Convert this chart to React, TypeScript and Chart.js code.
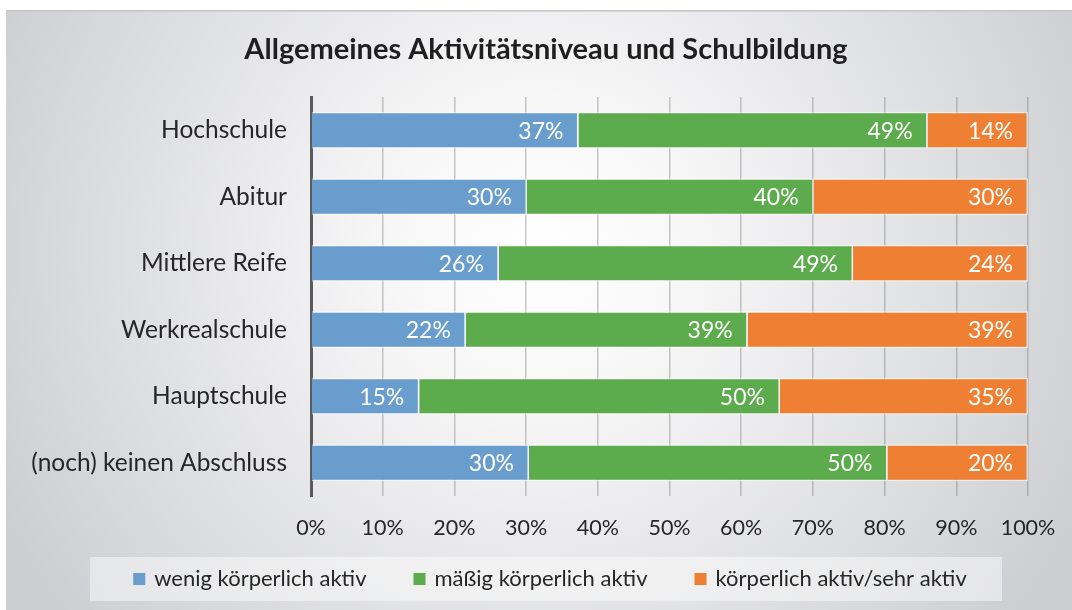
import React, { useEffect, useRef } from 'react';
import { Chart, registerables } from 'chart.js';

Chart.register(...registerables);

const chartTitle = 'Allgemeines Aktivitätsniveau und Schulbildung';
const categories = ['Hochschule', 'Abitur', 'Mittlere Reife', 'Werkrealschule', 'Hauptschule', '(noch) keinen Abschluss'];
const seriesNames = ['wenig körperlich aktiv', 'mäßig körperlich aktiv', 'körperlich aktiv/sehr aktiv'];
const seriesColors = ['#699dcd', '#5cab4d', '#ee7f33'];

const wenigValues = [37.3, 30.1, 26.2, 21.6, 15.1, 30.4];
const maessigValues = [48.7, 40.0, 49.4, 39.3, 50.3, 50.0];
const aktivValues = [14.0, 29.9, 24.4, 39.1, 34.6, 19.6];

const wenigLabels = ['37%', '30%', '26%', '22%', '15%', '30%'];
const maessigLabels = ['49%', '40%', '49%', '39%', '50%', '50%'];
const aktivLabels = ['14%', '30%', '24%', '39%', '35%', '20%'];

const xTickValues = [0, 10, 20, 30, 40, 50, 60, 70, 80, 90, 100];

const FONT = 'Lato, "Open Sans", sans-serif';

const backgroundPlugin = {
  id: 'bgPanel',
  beforeDraw(chart: any) {
    const { ctx, width, height } = chart;
    ctx.save();
    ctx.fillStyle = '#ffffff';
    ctx.fillRect(0, 0, width, height);
    const g = ctx.createRadialGradient(540, 250, 0, 540, 250, 600);
    g.addColorStop(0, '#ffffff');
    g.addColorStop(0.25, '#f7f7f8');
    g.addColorStop(1, '#cdced1');
    ctx.fillStyle = g;
    ctx.fillRect(6, 10, width - 6, height - 10);
    ctx.fillStyle = '#c4c4c6';
    ctx.fillRect(6, 10, width - 6, 1.5);
    // title
    ctx.fillStyle = '#1f1f1f';
    ctx.font = `bold 29px ${FONT}`;
    ctx.textAlign = 'center';
    ctx.textBaseline = 'middle';
    ctx.fillText(chartTitle, 546, 50);
    // legend box
    ctx.fillStyle = 'rgba(255,255,255,0.45)';
    ctx.fillRect(90, 557, 912, 44);
    ctx.font = `22px ${FONT}`;
    const box = 12;
    const gap = 9;
    const spacing = 47;
    const widths = seriesNames.map((n) => box + gap + ctx.measureText(n).width);
    const total = widths.reduce((a, b) => a + b, 0) + spacing * (seriesNames.length - 1);
    let x = 550 - total / 2;
    const cy = 579;
    ctx.textAlign = 'left';
    seriesNames.forEach((n, i) => {
      ctx.fillStyle = seriesColors[i];
      ctx.fillRect(x, cy - box / 2, box, box);
      ctx.fillStyle = '#262626';
      ctx.fillText(n, x + box + gap, cy);
      x += widths[i] + spacing;
    });
    ctx.restore();
  },
};

const valueLabelPlugin = {
  id: 'valueLabels',
  afterDatasetsDraw(chart: any) {
    const { ctx } = chart;
    const allLabels = [wenigLabels, maessigLabels, aktivLabels];
    ctx.save();
    ctx.font = `23px ${FONT}`;
    ctx.fillStyle = '#ffffff';
    ctx.textAlign = 'right';
    ctx.textBaseline = 'middle';
    chart.data.datasets.forEach((_: any, di: number) => {
      const meta = chart.getDatasetMeta(di);
      meta.data.forEach((el: any, i: number) => {
        ctx.fillText(allLabels[di][i], el.x - 15, el.y + 1);
      });
    });
    ctx.restore();
  },
};

export default function App() {
  const ref = useRef<HTMLCanvasElement>(null);
  useEffect(() => {
    if (!ref.current) return;
    const chart = new Chart(ref.current, {
      type: 'bar',
      data: {
        labels: categories,
        datasets: [
          { label: seriesNames[0], data: wenigValues, backgroundColor: seriesColors[0] },
          { label: seriesNames[1], data: maessigValues, backgroundColor: seriesColors[1] },
          { label: seriesNames[2], data: aktivValues, backgroundColor: seriesColors[2] },
        ].map((d) => ({
          ...d,
          borderColor: 'rgba(255,255,255,0.55)',
          borderWidth: 1.5,
          barPercentage: 0.56,
          categoryPercentage: 1,
        })),
      },
      options: {
        indexAxis: 'y',
        responsive: false,
        animation: false,
        layout: { padding: { left: 6, right: 44, top: 97, bottom: 64 } },
        plugins: {
          legend: { display: false },
          title: { display: false },
          tooltip: { enabled: false },
        },
        scales: {
          x: {
            type: 'linear',
            stacked: true,
            min: 0,
            max: 100,
            afterBuildTicks: (scale: any) => {
              scale.ticks = xTickValues.map((v) => ({ value: v }));
            },
            afterFit: (scale: any) => {
              scale.height = 50;
              scale.paddingLeft = 0;
              scale.paddingRight = 0;
            },
            ticks: {
              callback: (v: any) => `${v}%`,
              font: { family: FONT, size: 21.5 },
              color: '#262626',
              padding: 19,
              maxRotation: 0,
            },
            grid: { color: 'rgba(100,100,100,0.35)', lineWidth: 1.5, drawTicks: false },
            border: { display: false },
          },
          y: {
            type: 'category',
            stacked: true,
            afterFit: (scale: any) => {
              scale.width = 305;
            },
            ticks: {
              font: { family: FONT, size: 24.5 },
              color: '#262626',
              padding: 24,
            },
            grid: { display: false, drawTicks: false },
            border: { display: true, color: '#5a5a5a', width: 3 },
          },
        },
      },
      plugins: [backgroundPlugin, valueLabelPlugin],
    } as any);
    return () => chart.destroy();
  }, []);
  return (
    <canvas
      ref={ref}
      width={1072}
      height={610}
      style={{ position: 'absolute', left: 0, top: 0, display: 'block' }}
    />
  );
}
